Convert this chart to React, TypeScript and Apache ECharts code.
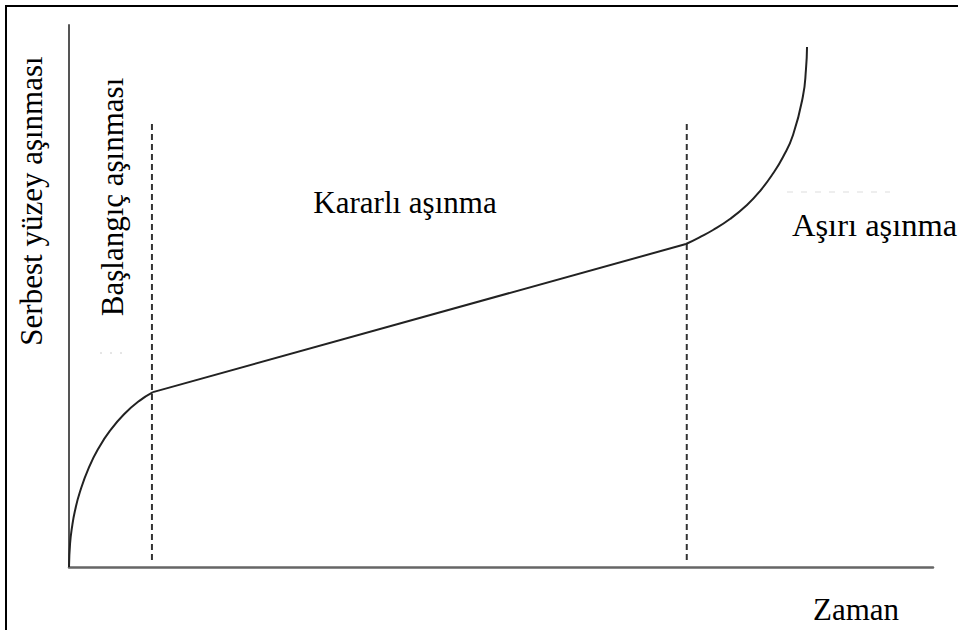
import React, { useEffect, useRef } from "react";
import * as echarts from "echarts";

// Time (x) and free-surface wear (y), arbitrary units 0..100
const initialTime = [0, 0.12, 0.35, 0.69, 1.27, 2.31, 3.47, 4.75, 6.37, 8.1, 9.72];
const initialWear = [0, 4.26, 7.36, 10.37, 13.89, 18.39, 22.05, 25.15, 28.17, 30.61, 32.27];

const steadyTime = [9.72, 71.41];
const steadyWear = [32.27, 59.59];

const finalTime = [71.41, 72.92, 74.54, 76.5, 78.47, 79.98, 81.48, 82.64, 83.8, 84.95, 85.3, 85.42];
const finalWear = [59.59, 60.79, 62.18, 64.21, 66.79, 69.37, 72.6, 75.65, 79.7, 86.9, 91.88, 95.94];

const boundaryTimes = [9.6, 71.5];
const dashWear = [1.3, 82.1];

const yAxisTitle = "Serbest yüzey aşınması";
const xAxisTitle = "Zaman";
const phaseLabels = ["Başlangıç aşınması", "Kararlı aşınma", "Aşırı aşınma"];

const pairs = (xs: number[], ys: number[]) => xs.map((x, i) => [x, ys[i]]);

const FONT = "Liberation Serif";

export default function App() {
  const ref = useRef<HTMLDivElement>(null);
  useEffect(() => {
    if (!ref.current) return;
    const chart = echarts.init(ref.current, undefined, { renderer: "svg" });
    const curveStyle = { color: "#222", width: 2 };
    const dashSeries = boundaryTimes.map((t) => ({
      type: "line",
      data: [
        [t, dashWear[0]],
        [t, dashWear[1]],
      ],
      symbol: "none",
      lineStyle: { color: "#333", width: 2, type: [6, 4] },
      silent: true,
      z: 1,
    }));
    const textStyle = (text: string, size: number, align: string) => ({
      text,
      fontFamily: FONT,
      fontSize: size,
      fill: "#000",
      textAlign: align,
      textVerticalAlign: "middle",
    });
    chart.setOption({
      animation: false,
      backgroundColor: "#fff",
      grid: { left: 69, right: 25, top: 25, bottom: 63 },
      xAxis: {
        type: "value",
        min: 0,
        max: 100,
        axisLine: { show: true, lineStyle: { color: "#666", width: 2.5 } },
        axisTick: { show: false },
        axisLabel: { show: false },
        splitLine: { show: false },
      },
      yAxis: {
        type: "value",
        min: 0,
        max: 100,
        axisLine: { show: true, lineStyle: { color: "#555", width: 2 } },
        axisTick: { show: false },
        axisLabel: { show: false },
        splitLine: { show: false },
      },
      series: [
        ...dashSeries,
        {
          type: "line",
          data: pairs(initialTime, initialWear),
          smooth: 0.5,
          symbol: "none",
          lineStyle: curveStyle,
          z: 3,
        },
        {
          type: "line",
          data: pairs(steadyTime, steadyWear),
          symbol: "none",
          lineStyle: curveStyle,
          z: 3,
        },
        {
          type: "line",
          data: pairs(finalTime, finalWear),
          smooth: 0.5,
          symbol: "none",
          lineStyle: curveStyle,
          z: 3,
        },
      ],
      graphic: [
        {
          type: "rect",
          shape: { x: 6, y: 6, width: 980, height: 660 },
          style: { fill: "none", stroke: "#000", lineWidth: 2 },
          silent: true,
        },
        {
          type: "line",
          shape: { x1: 787, y1: 192, x2: 890, y2: 192 },
          style: { stroke: "#ddd", lineWidth: 1, lineDash: [6, 8] },
          silent: true,
        },
        {
          type: "line",
          shape: { x1: 100, y1: 353, x2: 123, y2: 353 },
          style: { stroke: "#ccc", lineWidth: 1, lineDash: [2, 8] },
          silent: true,
        },
        {
          type: "text",
          x: 31,
          y: 201,
          rotation: Math.PI / 2,
          style: textStyle(yAxisTitle, 31, "center"),
        },
        {
          type: "text",
          x: 112,
          y: 197,
          rotation: Math.PI / 2,
          style: textStyle(phaseLabels[0], 31, "center"),
        },
        {
          type: "text",
          x: 405,
          y: 202,
          style: textStyle(phaseLabels[1], 31, "center"),
        },
        {
          type: "text",
          x: 792,
          y: 225,
          style: textStyle(phaseLabels[2], 32.5, "left"),
        },
        {
          type: "text",
          x: 856,
          y: 609,
          style: textStyle(xAxisTitle, 31, "center"),
        },
      ],
    });
    return () => chart.dispose();
  }, []);
  return <div ref={ref} style={{ width: 958, height: 630, position: "absolute", left: 0, top: 0 }} />;
}
